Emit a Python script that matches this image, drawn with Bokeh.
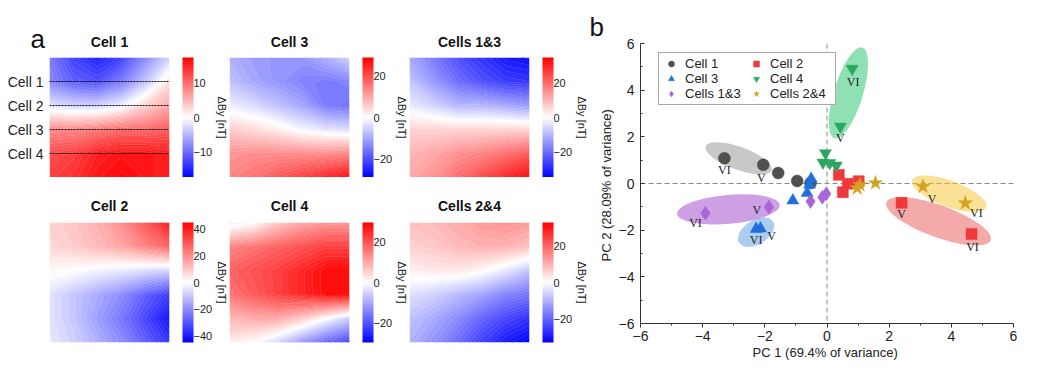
import numpy as np
from bokeh.plotting import figure
from bokeh.models import (LinearColorMapper, ColorBar, FixedTicker, Span, Title, LinearAxis,
                          Range1d, Legend, LegendItem, ColumnDataSource)
from bokeh.layouts import row, column
from bokeh.embed import file_html
from bokeh.resources import INLINE
from bokeh.core.properties import value

FONT = "Liberation Sans"
SERIF = "Liberation Serif"

# ---------------- panel a: field maps (rows top -> bottom, cols left -> right), nT
cell1_map = [
    [-9, -13, -15, -13, -8, -3],
    [-8, -11, -12, -9, -4, 2],
    [-2, -3, -3, -1, 3, 6],
    [8, 8, 9, 10, 10, 11],
    [12, 13, 15, 16, 16, 15],
    [13, 14, 16, 17, 16, 15],
]
cell3_map = [
    [-9, -11, -12, -12, -9, -5],
    [-7, -10, -12, -14, -15, -14],
    [-2, -4, -7, -10, -15, -16],
    [6, 4, 2, -1, -3, -4],
    [12, 13, 13, 13, 13, 14],
    [14, 16, 19, 22, 25, 28],
]
cells13_map = [
    [-12, -18, -24, -28, -32, -33],
    [-8, -14, -20, -24, -27, -28],
    [-3, -6, -10, -10, -12, -14],
    [6, 6, 6, 6, 6, 6],
    [10, 12, 15, 17, 20, 23],
    [12, 15, 20, 25, 30, 34],
]
cell2_map = [
    [8, 10, 14, 20, 30, 42],
    [7, 9, 12, 16, 22, 28],
    [1, 0, -2, -4, -6, -8],
    [-5, -10, -15, -20, -28, -35],
    [-5, -10, -17, -24, -33, -42],
    [-4, -8, -14, -20, -28, -36],
]
cell4_map = [
    [-3, 0, 6, 10, 12, 12],
    [14, 16, 18, 20, 22, 22],
    [18, 20, 22, 25, 28, 28],
    [16, 19, 22, 25, 28, 28],
    [8, 10, 10, 6, 0, -6],
    [2, 0, -5, -12, -18, -22],
]
cells24_map = [
    [8, 9, 11, 13, 14, 13],
    [6, 7, 9, 10, 10, 8],
    [2, 3, 3, 1, -3, -8],
    [-4, -6, -9, -12, -16, -18],
    [-8, -11, -15, -20, -24, -27],
    [-10, -14, -19, -25, -30, -33],
]
heat_titles = ["Cell 1", "Cell 3", "Cells 1&3", "Cell 2", "Cell 4", "Cells 2&4"]
heat_maps = [cell1_map, cell3_map, cells13_map, cell2_map, cell4_map, cells24_map]
heat_limits = [17.3, 29, 35, 45, 29.3, 33]
heat_ticks = [[-10, 0, 10], [-20, 0, 20], [-20, 0, 20],
              [-40, -20, 0, 20, 40], [-20, 0, 20], [-20, 0, 20]]
cell_line_y = [4, 3, 2, 1]
cell_line_labels = ["Cell 1", "Cell 2", "Cell 3", "Cell 4"]

# ---------------- panel b: PCA scores
pca_names = ["Cell 1", "Cell 2", "Cell 3", "Cell 4", "Cells 1&3", "Cells 2&4"]
cell1_x = [-0.53, -0.96, -1.57, -2.05, -3.3]
cell1_y = [0.02, 0.11, 0.45, 0.8, 1.08]
cell2_x = [0.38, 0.67, 0.51, 1.02, 2.4, 4.65]
cell2_y = [0.37, -0.01, -0.37, 0.1, -0.83, -2.16]
cell3_x = [-0.51, -0.56, -0.64, -1.1, -2.14, -2.28]
cell3_y = [0.2, -0.05, -0.41, -0.73, -1.93, -1.95]
cell4_x = [0.3, 0.09, -0.13, -0.05, 0.43, 0.81]
cell4_y = [0.77, 0.88, 0.9, 1.3, 2.44, 4.92]
cells13_x = [-0.02, -0.15, -0.53, -1.87, -3.91]
cells13_y = [-0.44, -0.59, -0.77, -1.01, -1.27]
cells24_x = [0.97, 1.06, 1.56, 3.09, 4.45]
cells24_y = [-0.2, -0.06, 0.02, -0.13, -0.84]
pca_x = [cell1_x, cell2_x, cell3_x, cell4_x, cells13_x, cells24_x]
pca_y = [cell1_y, cell2_y, cell3_y, cell4_y, cells13_y, cells24_y]

# point labels: (series index, point index, text)
point_labels = [(0, 4, "VI"), (0, 3, "V"), (2, 5, "VI"), (2, 4, "V"),
                (4, 4, "VI"), (4, 3, "V"), (1, 4, "V"), (1, 5, "VI"),
                (3, 4, "V"), (3, 5, "VI"), (5, 3, "V"), (5, 4, "VI")]
label_offsets = [(0, 12), (-2, 13), (0, 11), (11, 7), (-10, 10), (-12, 3),
                 (0, 11), (1, 13), (0, 11), (1, 13), (9, 12), (11, 10)]

# group ellipses: centre (data), size in px, angle deg
ell_x = [-2.84, 0.69, -2.28, -3.17, 3.93, 3.59]
ell_y = [1.08, 3.88, -2.09, -1.11, -0.44, -1.62]
ell_w = [70, 95, 40, 103, 79, 111]
ell_h = [23, 29, 24, 29, 26, 32]
ell_a = [-20, 73, 32, 5, -20, -20]
ell_colors = ["#919191", "#1fc368", "#559be1", "#9b41cd", "#f5c32d", "#eb5555"]

markers = ["circle", "square", "triangle", "inverted_triangle", "diamond", "star"]
marker_colors = ["#505050", "#ee3a3a", "#1f6fdc", "#2aa862", "#a865d8", "#d4a020"]
marker_sizes = [12, 11, 12, 12, 14, 15]


def bwr_color(t):
    t = min(max(t, 0.0), 1.0)
    if t < 0.5:
        c = int(round(510 * t))
        return "#%02x%02x%02x" % (c, c, 255)
    c = int(round(510 * (1 - t)))
    return "#%02x%02x%02x" % (255, c, c)


bwr = [bwr_color(i / 255) for i in range(256)]
N_LEVELS = 61

# ---------------- narrow strip on the left: panel letter "a" and the cell-row labels
strip = figure(frame_width=1, frame_height=120, x_range=Range1d(0, 1), y_range=Range1d(0, 5),
               output_backend="svg", toolbar_location=None,
               min_border_left=48, min_border_right=0, min_border_top=57, min_border_bottom=0,
               x_axis_location=None, y_axis_location="left")
strip.outline_line_color = None
strip.xgrid.visible = False
strip.ygrid.visible = False
strip.add_layout(Title(text="a", align="left", offset=-18, text_font=FONT, text_font_size="26px",
                       text_font_style="normal", text_color="#111111", standoff=8), "above")
sax = strip.yaxis[0]
sax.ticker = FixedTicker(ticks=cell_line_y)
sax.major_label_overrides = {v: s for v, s in zip(cell_line_y, cell_line_labels)}
sax.axis_line_color = None
sax.major_tick_line_color = None
sax.minor_tick_line_color = None
sax.major_tick_out = 0
sax.major_label_standoff = 5
sax.major_label_text_font = FONT
sax.major_label_text_font_size = "14px"
sax.major_label_text_color = "#222222"


def heat_panel(k, left, right, top, bottom, standoff, cells=False):
    p = figure(frame_width=120, frame_height=120, x_range=Range1d(0, 5), y_range=Range1d(0, 5),
               output_backend="svg", toolbar_location=None,
               min_border_left=left, min_border_right=right, min_border_top=top,
               min_border_bottom=bottom, x_axis_location=None, y_axis_location=None)
    p.outline_line_color = None
    p.xgrid.visible = False
    p.ygrid.visible = False
    p.add_layout(Title(text=heat_titles[k], align="center", text_font=FONT, text_font_size="14px",
                       text_font_style="bold", text_color="#111111", standoff=standoff), "above")
    lim = heat_limits[k]
    mapper = LinearColorMapper(palette=bwr, low=-lim, high=lim)
    z = np.flipud(np.array(heat_maps[k], dtype=float))
    ny, nx = z.shape
    xs = np.linspace(0, 5, nx)
    ys = np.linspace(0, 5, ny)
    levels = np.linspace(-lim, lim, N_LEVELS)
    fills = [bwr_color((0.5 * (levels[i] + levels[i + 1]) + lim) / (2 * lim))
             for i in range(N_LEVELS - 1)]
    lines = [bwr_color((lv + lim) / (2 * lim)) for lv in levels]
    p.contour(x=xs, y=ys, z=z, levels=levels, fill_color=fills, line_color=lines,
              line_width=0.6)
    spacer = LinearAxis(ticker=FixedTicker(ticks=[2.5]), major_label_overrides={2.5: ""},
                        major_tick_out=13, major_tick_in=0,
                        major_label_standoff=0, axis_label_standoff=0,
                        axis_line_color=None, major_tick_line_color=None,
                        minor_tick_line_color=None, major_label_text_font_size="1px")
    p.add_layout(spacer, "right")
    cb = ColorBar(color_mapper=mapper, ticker=FixedTicker(ticks=heat_ticks[k]),
                  width=11, height=120, padding=0, margin=0, label_standoff=0,
                  major_tick_in=0, major_tick_out=0,
                  major_tick_line_color=None, bar_line_color=None,
                  major_label_text_font=FONT, major_label_text_font_size="11px",
                  major_label_text_color="#222222",
                  background_fill_color=None, border_line_color=None)
    p.add_layout(cb, "right")
    p.add_layout(Title(text="ΔBy [nT]", align="center", text_font=FONT, text_font_size="11px",
                       text_font_style="normal", text_color="#222222", standoff=0), "right")
    if cells:
        for yv in cell_line_y:
            p.add_layout(Span(location=yv, dimension="width", line_color="#111111",
                              line_dash="2 1", line_width=1))
    return p


f1 = heat_panel(0, 0, 60, 57, 0, 16, cells=True)
f2 = heat_panel(1, 0, 60, 57, 0, 16)
f3 = heat_panel(2, 0, 60, 57, 0, 16)
f4 = heat_panel(3, 49, 60, 45, 8, 18)
f5 = heat_panel(4, 0, 60, 45, 8, 18)
f6 = heat_panel(5, 0, 60, 45, 8, 18)

# ---------------- scatter
sc = figure(frame_width=373, frame_height=280, x_range=Range1d(-6, 6), y_range=Range1d(-6, 6),
            output_backend="svg", toolbar_location=None,
            min_border_left=51, min_border_right=18, min_border_top=43, min_border_bottom=36)
sc.outline_line_color = None
sc.xgrid.visible = False
sc.ygrid.visible = False
for ax in (sc.xaxis[0], sc.yaxis[0]):
    ax.ticker = FixedTicker(ticks=[-6, -4, -2, 0, 2, 4, 6], minor_ticks=[-5, -3, -1, 1, 3, 5])
    ax.axis_line_color = "#333333"
    ax.major_tick_line_color = "#333333"
    ax.minor_tick_line_color = "#333333"
    ax.major_label_text_font = FONT
    ax.major_label_text_font_size = "14px"
    ax.major_label_text_color = "#222222"
    ax.axis_label_text_font = FONT
    ax.axis_label_text_font_size = "13px"
    ax.axis_label_text_font_style = "normal"
    ax.axis_label_text_color = "#222222"
sc.xaxis.axis_label = "PC 1 (69.4% of  variance)"
sc.yaxis.axis_label = "PC 2 (28.09% of  variance)"
sc.xaxis.major_tick_out = 4
sc.xaxis.major_tick_in = 0
sc.xaxis.minor_tick_out = 2
sc.xaxis.minor_tick_in = 0
sc.xaxis.major_label_standoff = 3
sc.xaxis.axis_label_standoff = 1
sc.yaxis.major_tick_out = 0
sc.yaxis.major_tick_in = 4
sc.yaxis.minor_tick_out = 0
sc.yaxis.minor_tick_in = 2
sc.yaxis.major_label_standoff = 6
sc.yaxis.axis_label_standoff = 2
sc.add_layout(Title(text="b", align="left", offset=-51, text_font=FONT, text_font_size="26px",
                    text_font_style="normal", text_color="#111111", standoff=4), "above")

sc.add_layout(Span(location=0, dimension="height", line_color="#8a8a8a", line_dash="5 3",
                   line_width=1, level="underlay"))
sc.add_layout(Span(location=0, dimension="width", line_color="#8a8a8a", line_dash="5 3",
                   line_width=1, level="underlay"))

esrc = ColumnDataSource(dict(x=ell_x, y=ell_y, w=ell_w, h=ell_h, a=ell_a, c=ell_colors))
sc.ellipse(x="x", y="y", width="w", height="h", angle="a", angle_units="deg",
           width_units="screen", height_units="screen", fill_color="c", fill_alpha=0.5,
           line_color=None, source=esrc)

renderers = []
for i, name in enumerate(pca_names):
    r = sc.scatter(pca_x[i], pca_y[i], marker=markers[i], size=marker_sizes[i],
                   fill_color=marker_colors[i], line_color=marker_colors[i], line_width=0.5)
    renderers.append(r)

lx = [pca_x[s][j] for s, j, t in point_labels]
ly = [pca_y[s][j] for s, j, t in point_labels]
lt = [t for s, j, t in point_labels]
lsrc = ColumnDataSource(dict(x=lx, y=ly, t=lt, xo=[o[0] for o in label_offsets],
                             yo=[o[1] for o in label_offsets]))
sc.text(x="x", y="y", text="t", x_offset="xo", y_offset="yo", source=lsrc,
        text_font=value(SERIF), text_font_size="12px", text_color="#222222",
        text_align="center", text_baseline="middle")

order = [0, 2, 4, 1, 3, 5]
legend = Legend(items=[LegendItem(label=pca_names[i], renderers=[renderers[i]]) for i in order],
                ncols=2, location=(18, 218), label_text_font=FONT, label_text_font_size="13px",
                label_text_color="#222222", glyph_width=18, glyph_height=15, label_height=15,
                label_width=62, spacing=0, padding=3, margin=0, label_standoff=5,
                border_line_color="#555555", border_line_width=1, background_fill_alpha=1)
sc.add_layout(legend)

layout = row(column(row(strip, f1, f2, f3), row(f4, f5, f6)), sc)
open("out.html", "w").write(file_html(layout, INLINE))
